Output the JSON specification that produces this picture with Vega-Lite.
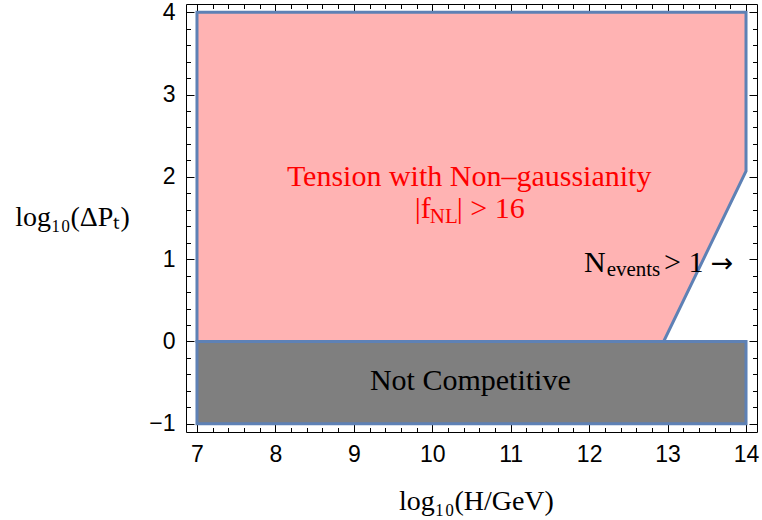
{
  "$schema": "https://vega.github.io/schema/vega-lite/v6.json",
  "width": 571,
  "height": 428,
  "autosize": "none",
  "padding": {"left": 186, "top": 4, "right": 5, "bottom": 88},
  "background": "white",
  "config": {
    "view": {"stroke": null},
    "axis": {
      "grid": false,
      "zindex": 1,
      "domainColor": "#000000",
      "domainWidth": 1,
      "tickColor": "#000000",
      "tickWidth": 1,
      "labelFont": "Liberation Sans",
      "labelFontSize": 23,
      "labelColor": "#000000",
      "labelOverlap": false,
      "format": "~g",
      "titleFont": "Liberation Serif",
      "titleFontSize": 28,
      "titleFontWeight": "normal",
      "titleColor": "#000000"
    }
  },
  "resolve": {"axis": {"x": "independent", "y": "independent"}},
  "layer": [
    {
      "data": {"values": [
        {"h": 7, "p": 0, "p2": 4},
        {"h": 12.95, "p": 0, "p2": 4},
        {"h": 14, "p": 2.07, "p2": 4}
      ]},
      "mark": {"type": "area", "color": "#ffb3b3", "opacity": 1},
      "encoding": {
        "x": {"field": "h", "type": "quantitative",
          "scale": {"domain": [6.86, 14.14], "nice": false, "zero": false},
          "axis": {
            "orient": "bottom",
            "format": "~g",
            "values": [7,7.2,7.4,7.6,7.8,8,8.2,8.4,8.6,8.8,9,9.2,9.4,9.6,9.8,10,10.2,10.4,10.6,10.8,11,11.2,11.4,11.6,11.8,12,12.2,12.4,12.6,12.8,13,13.2,13.4,13.6,13.8,14],
            "tickSize": {"condition": {"test": "abs(datum.value - round(datum.value)) < 0.001", "value": -8}, "value": -4.5},
            "labelExpr": "abs(datum.value - round(datum.value)) < 0.001 ? datum.label : ''",
            "labelPadding": 19,
            "title": "log₁₀(H/GeV)",
            "titleX": 290,
            "titleY": 77,
            "titleBaseline": "alphabetic"
          }},
        "y": {"field": "p", "type": "quantitative",
          "scale": {"domain": [-1.1, 4.1], "nice": false, "zero": false},
          "axis": {
            "orient": "left",
            "format": "~g",
            "values": [-1,-0.8,-0.6,-0.4,-0.2,0,0.2,0.4,0.6,0.8,1,1.2,1.4,1.6,1.8,2,2.2,2.4,2.6,2.8,3,3.2,3.4,3.6,3.8,4],
            "tickSize": {"condition": {"test": "abs(datum.value - round(datum.value)) < 0.001", "value": -8}, "value": -4.5},
            "labelExpr": "abs(datum.value - round(datum.value)) < 0.001 ? datum.label : ''",
            "labelPadding": 19,
            "title": "log₁₀(ΔPₜ)",
            "titleAngle": 0,
            "titleAlign": "center",
            "titleBaseline": "alphabetic",
            "titleX": -114,
            "titleY": 221
          }},
        "y2": {"field": "p2"}
      }
    },
    {
      "data": {"values": [
        {"h": 7, "p": 0, "o": 1},
        {"h": 7, "p": 4, "o": 2},
        {"h": 14, "p": 4, "o": 3},
        {"h": 14, "p": 2.07, "o": 4},
        {"h": 12.95, "p": 0, "o": 5},
        {"h": 7, "p": 0, "o": 6}
      ]},
      "mark": {"type": "line", "color": "#5e81b5", "strokeWidth": 3, "strokeJoin": "miter", "strokeCap": "square"},
      "encoding": {
        "x": {"field": "h", "type": "quantitative",
          "axis": {
            "orient": "top",
            "values": [7,7.2,7.4,7.6,7.8,8,8.2,8.4,8.6,8.8,9,9.2,9.4,9.6,9.8,10,10.2,10.4,10.6,10.8,11,11.2,11.4,11.6,11.8,12,12.2,12.4,12.6,12.8,13,13.2,13.4,13.6,13.8,14],
            "tickSize": {"condition": {"test": "abs(datum.value - round(datum.value)) < 0.001", "value": -8}, "value": -4.5},
            "labels": false,
            "title": null
          }},
        "y": {"field": "p", "type": "quantitative",
          "axis": {
            "orient": "right",
            "values": [-1,-0.8,-0.6,-0.4,-0.2,0,0.2,0.4,0.6,0.8,1,1.2,1.4,1.6,1.8,2,2.2,2.4,2.6,2.8,3,3.2,3.4,3.6,3.8,4],
            "tickSize": {"condition": {"test": "abs(datum.value - round(datum.value)) < 0.001", "value": -8}, "value": -4.5},
            "labels": false,
            "title": null
          }},
        "order": {"field": "o", "type": "quantitative"}
      }
    },
    {
      "data": {"values": [{"h": 7, "h2": 14, "p": -1, "p2": 0}]},
      "mark": {"type": "rect", "fill": "#7f7f7f", "stroke": "#5e81b5", "strokeWidth": 3, "strokeJoin": "miter"},
      "encoding": {
        "x": {"field": "h", "type": "quantitative", "axis": null},
        "x2": {"field": "h2"},
        "y": {"field": "p", "type": "quantitative", "axis": null},
        "y2": {"field": "p2"}
      }
    },
    {
      "data": {"values": [{"h": 10.47, "p": 1.89, "t": "Tension with Non–gaussianity"}]},
      "mark": {"type": "text", "font": "Liberation Serif", "fontSize": 30, "color": "#ff0000", "align": "center", "baseline": "alphabetic"},
      "encoding": {
        "x": {"field": "h", "type": "quantitative", "axis": null},
        "y": {"field": "p", "type": "quantitative", "axis": null},
        "text": {"field": "t"}
      }
    },
    {
      "data": {"values": [
        {"h": 9.777, "p": 1.5, "t": "|f"},
        {"h": 10.313, "p": 1.5, "t": "| > 16"}
      ]},
      "mark": {"type": "text", "font": "Liberation Serif", "fontSize": 30, "color": "#ff0000", "align": "left", "baseline": "alphabetic"},
      "encoding": {
        "x": {"field": "h", "type": "quantitative", "axis": null},
        "y": {"field": "p", "type": "quantitative", "axis": null},
        "text": {"field": "t"}
      }
    },
    {
      "data": {"values": [{"h": 9.968, "p": 1.442, "t": "NL"}]},
      "mark": {"type": "text", "font": "Liberation Serif", "fontSize": 21, "color": "#ff0000", "align": "left", "baseline": "alphabetic"},
      "encoding": {
        "x": {"field": "h", "type": "quantitative", "axis": null},
        "y": {"field": "p", "type": "quantitative", "axis": null},
        "text": {"field": "t"}
      }
    },
    {
      "data": {"values": [{"h": 10.485, "p": -0.595, "t": "Not Competitive"}]},
      "mark": {"type": "text", "font": "Liberation Serif", "fontSize": 30, "color": "#000000", "align": "center", "baseline": "alphabetic"},
      "encoding": {
        "x": {"field": "h", "type": "quantitative", "axis": null},
        "y": {"field": "p", "type": "quantitative", "axis": null},
        "text": {"field": "t"}
      }
    },
    {
      "data": {"values": [
        {"h": 11.934, "p": 0.843, "t": "N"},
        {"h": 12.954, "p": 0.843, "t": "> 1"}
      ]},
      "mark": {"type": "text", "font": "Liberation Serif", "fontSize": 30, "color": "#000000", "align": "left", "baseline": "alphabetic"},
      "encoding": {
        "x": {"field": "h", "type": "quantitative", "axis": null},
        "y": {"field": "p", "type": "quantitative", "axis": null},
        "text": {"field": "t"}
      }
    },
    {
      "data": {"values": [{"h": 13.55, "p": 0.85, "t": "→"}]},
      "mark": {"type": "text", "font": "DejaVu Sans", "fontSize": 27, "color": "#000000", "align": "left", "baseline": "alphabetic"},
      "encoding": {
        "x": {"field": "h", "type": "quantitative", "axis": null},
        "y": {"field": "p", "type": "quantitative", "axis": null},
        "text": {"field": "t"}
      }
    },
    {
      "data": {"values": [{"h": 12.223, "p": 0.798, "t": "events"}]},
      "mark": {"type": "text", "font": "Liberation Serif", "fontSize": 21, "color": "#000000", "align": "left", "baseline": "alphabetic"},
      "encoding": {
        "x": {"field": "h", "type": "quantitative", "axis": null},
        "y": {"field": "p", "type": "quantitative", "axis": null},
        "text": {"field": "t"}
      }
    }
  ]
}
